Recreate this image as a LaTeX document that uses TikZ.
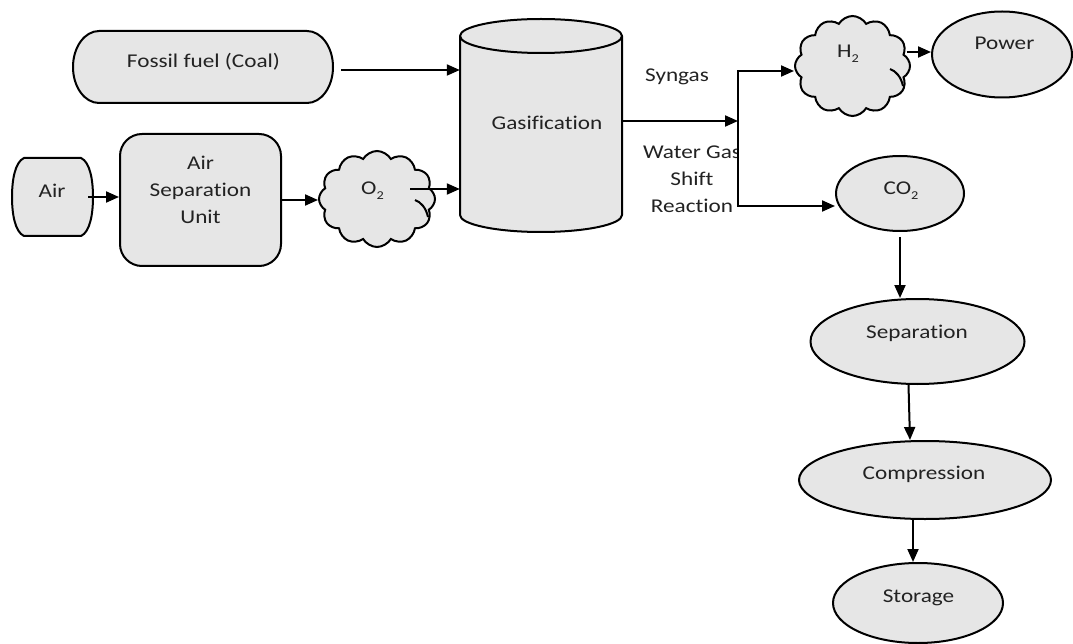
\documentclass[tikz,border=0pt]{standalone}
\usepackage{fontspec}
\setmainfont{Carlito}[FakeStretch=1.19, Ligatures=NoCommon]
\usetikzlibrary{shapes.geometric,shapes.symbols,arrows.meta}
\definecolor{shapefill}{RGB}{230,230,230}
\definecolor{inkgray}{RGB}{34,34,34}
\newcommand\chemsub[1]{\raisebox{-0.45ex}{\fontsize{12}{12}\selectfont #1}}

\begin{document}
\begin{tikzpicture}[x=1pt,y=-1pt,
  outline/.style={draw=black, line width=2pt, fill=shapefill},
  oval/.style={outline, ellipse, inner sep=0pt},
  puff/.style={outline, cloud, cloud puffs=12, cloud puff arc=120, cloud ignores aspect, inner sep=0pt},
  fold/.style={line width=2pt},
  anchorbox/.style={rectangle, inner sep=0pt},
  txt/.style={font=\fontsize{19.5}{27}\selectfont, text=inkgray, inner sep=0pt, anchor=base, align=center},
  flow/.style={line width=2pt, -{Triangle[length=13pt,width=11pt]}},
]
\useasboundingbox (0,0) rectangle (1073,644);

% ---- feed side -------------------------------------------------------
\draw[outline] (99,31) -- (307,31)
  arc[start angle=90, end angle=-90, x radius=26pt, y radius=36pt] -- (99,103)
  arc[start angle=270, end angle=90, x radius=26pt, y radius=36pt] -- cycle;
\node[anchorbox, minimum width=260pt, minimum height=72pt] (fossil) at (203,67) {};
\node[txt] (fossil-t) at (203.5,68) {Fossil fuel (Coal)};

\draw[outline] (24,158) -- (81,158)
  .. controls (90,162) and (93,180) .. (93,197)
  .. controls (93,214) and (90,232) .. (81,236) -- (24,236)
  .. controls (15,232) and (12,214) .. (12,197)
  .. controls (12,180) and (15,162) .. (24,158) -- cycle;
\node[anchorbox, minimum width=81pt, minimum height=78pt] (air) at (52.5,197) {};
\node[txt] (air-t) at (52,198) {Air};

\node[outline, rounded corners=22pt, minimum width=161pt, minimum height=132pt, inner sep=0pt] (asu) at (200.5,200) {};
\node[txt, anchor=center] (asu-t) at (200.5,190) {Air\\Separation\\Unit};

\node[puff, minimum width=116pt, minimum height=96pt] (o2) at (377,199) {};
% inner fold of the cloud outline
\draw[fold] (415,200) .. controls (421,202) and (426,208) .. (428,217);
\node[txt] (o2-t) at (372.5,195) {O\chemsub{2}};

% ---- gasifier --------------------------------------------------------
\draw[outline] (460,36) -- (460,215)
  arc[start angle=180, end angle=360, x radius=81pt, y radius=17pt] -- (622,36)
  arc[start angle=0, end angle=180, x radius=81pt, y radius=17pt] -- cycle;
\draw[fold] (460,36) arc[start angle=180, end angle=360, x radius=81pt, y radius=17pt];
\node[anchorbox, minimum width=162pt, minimum height=213pt] (gas) at (541,125.5) {};
\node[txt] (gas-t) at (547,130) {Gasification};

% ---- products --------------------------------------------------------
\node[puff, minimum width=115pt, minimum height=100pt] (h2) at (852.5,66) {};
\draw[fold] (890,69) .. controls (896,71) and (901,77) .. (903,86);
\node[txt] (h2-t) at (848,58) {H\chemsub{2}};

\node[oval, minimum width=140pt, minimum height=86pt] (power) at (1002,54.5) {};
\node[txt] (power-t) at (1004.5,50) {Power};

\node[oval, minimum width=128pt, minimum height=75pt] (co2) at (900,193.5) {};
\node[txt] (co2-t) at (901,195) {CO\chemsub{2}};

\node[oval, minimum width=214pt, minimum height=85pt] (sep) at (917.5,341.5) {};
\node[txt] (sep-t) at (917,338) {Separation};

\node[oval, minimum width=252pt, minimum height=78pt] (comp) at (925,480) {};
\node[txt] (comp-t) at (924,479) {Compression};

\node[oval, minimum width=170pt, minimum height=80pt] (stor) at (918,603) {};
\node[txt] (stor-t) at (918.5,602) {Storage};

% ---- stream labels ---------------------------------------------------
\node[txt] (syn-t) at (677,82) {Syngas};
\begin{scope}
  \clip (600,130) rectangle (737,230);
  \node[txt, anchor=center] (wgs-t) at (692,179.5) {Water Gas\\Shift\\Reaction};
\end{scope}

% ---- connectors ------------------------------------------------------
\coordinate (f-out) at ([shift={(8,3)}]fossil.east);
\draw[flow] (f-out) -- (f-out -| gas.west);
\draw[flow] ([xshift=-5pt]air.east) -- (air.east -| asu.west);
\draw[flow] (asu.east) -- (asu.east -| o2.west);
\coordinate (o-out) at ([shift={(33,-10)}]o2.center);
\draw[flow] (o-out) -- (o-out -| gas.west);

\coordinate (jn) at (738,121);
\coordinate (jtop) at (738,71);
\coordinate (jbot) at (738,206);
\draw[flow] (gas.east |- jn) -- (jn);
\draw[flow] (jbot) -- (jtop) -- (jtop -| h2.west);
\draw[flow] (jtop) -- (jbot) -- (jbot -| co2.west);

\coordinate (h-out) at ([shift={(54,-14)}]h2.center);
\draw[flow] (h-out) -- (h-out -| power.west);

\draw[flow] ([yshift=-5pt]co2.south) -- (co2.south |- sep.north);
\draw[flow] ([xshift=-9pt]sep.south) -- ([xshift=-15pt]comp.north);
\draw[flow] ([xshift=-12pt]comp.south) -- ([xshift=-12pt]comp.south |- stor.north);
\end{tikzpicture}
\end{document}
